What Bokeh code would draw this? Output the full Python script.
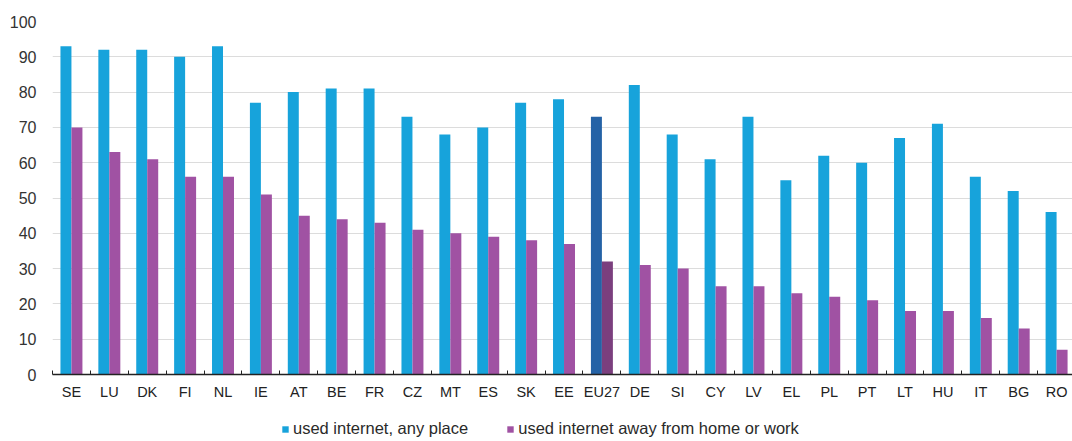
import numpy as np
from bokeh.plotting import figure
from bokeh.layouts import column
from bokeh.models import ColumnDataSource, FixedTicker, Legend, LegendItem, Range1d
from bokeh.transform import dodge
from bokeh.embed import file_html
from bokeh.resources import INLINE

countries = ["SE", "LU", "DK", "FI", "NL", "IE", "AT", "BE", "FR", "CZ", "MT", "ES", "SK", "EE",
             "EU27", "DE", "SI", "CY", "LV", "EL", "PL", "PT", "LT", "HU", "IT", "BG", "RO"]
any_place = [93, 92, 92, 90, 93, 77, 80, 81, 81, 73, 68, 70, 77, 78,
             73, 82, 68, 61, 73, 55, 62, 60, 67, 71, 56, 52, 46]
away = [70, 63, 61, 56, 56, 51, 45, 44, 43, 41, 40, 39, 38, 37,
        32, 31, 30, 25, 25, 23, 22, 21, 18, 18, 16, 13, 7]
series_names = ["used internet, any place", "used internet away from home or work"]

BLUE, PURPLE = "#17A3DB", "#A052A3"
BLUE_EU, PURPLE_EU = "#2462A6", "#7B3F7E"

n = len(countries)
centers = np.arange(n) + 0.5
src = ColumnDataSource(dict(
    x=centers,
    a=any_place,
    b=away,
    ca=[BLUE_EU if c == "EU27" else BLUE for c in countries],
    cb=[PURPLE_EU if c == "EU27" else PURPLE for c in countries],
))

FONT = "Liberation Sans"

p = figure(width=1072, height=402, output_backend="svg", toolbar_location=None,
           x_range=Range1d(0, 26.92), y_range=Range1d(0, 100),
           min_border_left=52, min_border_right=0, min_border_top=21, min_border_bottom=27)
p.outline_line_color = None

w = 0.29
ra = p.vbar(x=dodge("x", -0.145), top="a", width=w, bottom=0, source=src,
            fill_color="ca", line_color=None)
rb = p.vbar(x=dodge("x", 0.145), top="b", width=w, bottom=0, source=src,
            fill_color="cb", line_color=None)

# x axis
ticker = FixedTicker(ticks=list(centers), minor_ticks=list(range(n + 1)))
p.xaxis.ticker = ticker
p.xaxis.major_label_overrides = {float(c): lab for c, lab in zip(centers, countries)}
p.xaxis.major_tick_in = 0
p.xaxis.major_tick_out = 0
p.xaxis.minor_tick_in = 4
p.xaxis.minor_tick_out = 0
p.xaxis.minor_tick_line_color = "#222222"
p.xaxis.axis_line_color = "#222222"
p.xaxis.axis_line_width = 1.5
p.xaxis.major_label_text_font = FONT
p.xaxis.major_label_text_font_size = "14.5px"
p.xaxis.major_label_text_color = "#222222"
p.xaxis.major_label_standoff = 9
p.xgrid.grid_line_color = None

# y axis
p.yaxis.ticker = FixedTicker(ticks=list(range(0, 101, 10)))
p.yaxis.axis_line_color = None
p.yaxis.major_tick_line_color = None
p.yaxis.minor_tick_line_color = None
p.yaxis.major_label_text_font = FONT
p.yaxis.major_label_text_font_size = "16px"
p.yaxis.major_label_text_color = "#333333"
p.yaxis.major_label_standoff = 10
p.ygrid.grid_line_color = "#dcdcdc"
p.ygrid.grid_line_width = 1

# legend strip below the chart (frames are aligned with the chart above)
p2 = figure(width=1072, height=39, output_backend="svg", toolbar_location=None,
            x_range=Range1d(0, 1), y_range=Range1d(0, 1),
            x_axis_type=None, y_axis_type=None,
            min_border_left=0, min_border_right=0, min_border_top=0, min_border_bottom=0)
p2.outline_line_color = None
p2.xgrid.grid_line_color = None
p2.ygrid.grid_line_color = None
la = p2.vbar(x="x", top="a", width=w, source=src, fill_color=BLUE, line_color=None, visible=False)
lb = p2.vbar(x="x", top="b", width=w, source=src, fill_color=PURPLE, line_color=None, visible=False)

legend = Legend(items=[LegendItem(label=series_names[0], renderers=[la]),
                       LegendItem(label=series_names[1], renderers=[lb])],
                orientation="horizontal", location=(229, 3),
                glyph_width=8, glyph_height=8, label_standoff=4, spacing=38,
                label_height=16, padding=0, margin=0, border_line_color=None,
                background_fill_alpha=0,
                label_text_font=FONT, label_text_font_size="16.5px", label_text_color="#2a2a2a")
p2.add_layout(legend, "center")

layout = column(p, p2, spacing=0)
open("out.html", "w").write(file_html(layout, INLINE))
